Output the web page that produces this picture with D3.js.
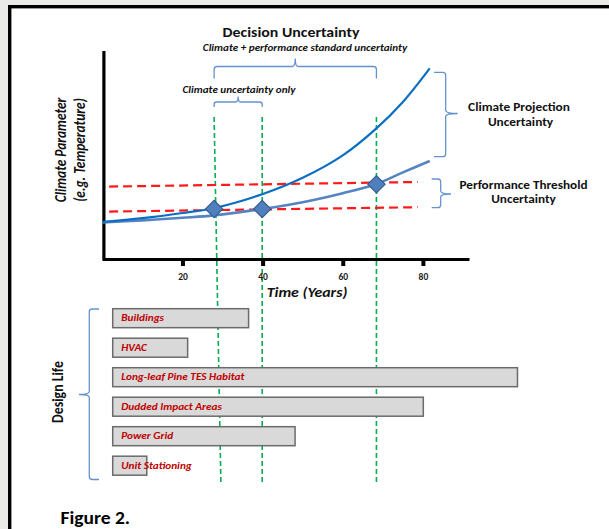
<!DOCTYPE html>
<html>
<head>
<meta charset="utf-8">
<script src="https://cdn.jsdelivr.net/npm/d3@7"></script>
<style>
  html, body { margin: 0; padding: 0; background: #eaebe9; }
  svg { display: block; }
  text { font-family: Carlito, Lato, "Open Sans", sans-serif; }
</style>
</head>
<body>
<script>
// ---------- data ----------
const timeTicks = [20, 40, 60, 80];
const curveTimes = [0, 10, 20, 27.9, 39.9, 50, 60, 68.4, 75, 81.7];
const upperCurve = [18.5, 20.4, 23, 25.5, 32.4, 40.6, 51.8, 65.3, 78.5, 95.3];
const lowerCurve = [18.3, 19.3, 20.6, 21.8, 25, 28.4, 32.9, 37.5, 43.3, 49];
const thresholdTimes = [1.7, 78.7];
const thresholdHigh = [36.2, 38.5];
const thresholdLow = [23.7, 25.9];
const decisionTimes = [27.9, 39.9, 68.4];
const decisionValues = [25, 25, 37.4];
const decisionTimesBottom = [29.6, 39.9, 68.4];
const lifeCategories = ["Buildings", "HVAC", "Long-leaf Pine TES Habitat", "Dudded Impact Areas", "Power Grid", "Unit Stationing"];
const lifeStart = [2.6, 2.6, 2.6, 2.6, 2.6, 2.6];
const lifeEnd = [36.5, 21.3, 103.6, 80.1, 48.1, 11.1];

// ---------- setup ----------
const W = 609, H = 529;
const SX = 1.15; // horizontal stretch of the original figure's text
const svg = d3.select("body").append("svg").attr("width", W).attr("height", H);

svg.append("rect").attr("x", 0).attr("y", 0).attr("width", W).attr("height", H).attr("fill", "#eaebe9");
svg.append("rect").attr("x", 9.7).attr("y", 6.7).attr("width", 700).attr("height", 700)
  .attr("fill", "#ffffff").attr("stroke", "#000").attr("stroke-width", 3.4);

const x = d3.scaleLinear().domain([0, 91.5]).range([102.3, 469]);
const y = d3.scaleLinear().domain([0, 104]).range([259, 51]);
const yBand = d3.scaleBand().domain(lifeCategories).range([303.45, 480.45]).paddingInner(0.356).paddingOuter(0.178);

const braceColor = "#6592cf";

// ---------- green decision lines ----------
const greenTop = 117, greenBottom = 485;
svg.append("g").selectAll("line").data(decisionTimes).join("line")
  .attr("x1", d => x(d)).attr("y1", greenTop)
  .attr("x2", (d, i) => x(decisionTimesBottom[i])).attr("y2", greenBottom)
  .attr("stroke", "#00b050").attr("stroke-width", 1.6).attr("stroke-dasharray", "5,3");

// ---------- design life bars ----------
const bars = svg.append("g");
bars.selectAll("rect").data(lifeCategories).join("rect")
  .attr("x", (d, i) => x(lifeStart[i]))
  .attr("y", d => yBand(d))
  .attr("width", (d, i) => x(lifeEnd[i]) - x(lifeStart[i]))
  .attr("height", yBand.bandwidth())
  .attr("fill", "#d9d9d9").attr("stroke", "#6b6b6b").attr("stroke-width", 1.5);
bars.selectAll("text").data(lifeCategories).join("text")
  .attr("transform", (d, i) => `translate(${x(lifeStart[i]) + 8.5},${yBand(d) + yBand.bandwidth() / 2}) scale(${SX},1)`)
  .attr("dominant-baseline", "central")
  .attr("fill", "#c00000").attr("font-size", 9.8).attr("font-weight", "bold").attr("font-style", "italic")
  .text(d => d);

// ---------- axes ----------
const xAxis = svg.append("g").attr("transform", `translate(0,${y(0)})`)
  .call(d3.axisBottom(x).tickValues(timeTicks).tickSize(7).tickSizeOuter(0).tickPadding(7));
xAxis.select(".domain").attr("stroke", "#000").attr("stroke-width", 3.2);
xAxis.selectAll(".tick line").attr("stroke", "#000").attr("stroke-width", 4);
xAxis.selectAll(".tick text").attr("font-size", 9.5).attr("font-weight", "bold").attr("fill", "#1a1a1a")
  .style("font-family", "Carlito, Lato, 'Open Sans', sans-serif");

const yAxis = svg.append("g").attr("transform", `translate(${x(0) + 1.6},0)`)
  .call(d3.axisLeft(y).tickValues([]).tickSizeOuter(0));
yAxis.select(".domain").attr("stroke", "#000").attr("stroke-width", 3.2)
  .attr("d", `M0,${y(104)}V${y(0) + 1.5}`);

// ---------- threshold lines ----------
const tLine = d3.line().x(d => x(d[0])).y(d => y(d[1]));
[thresholdHigh, thresholdLow].forEach(vals => {
  svg.append("path").datum(thresholdTimes.map((t, i) => [t, vals[i]]))
    .attr("d", tLine).attr("fill", "none").attr("stroke", "#ff1a1a")
    .attr("stroke-width", 2.2).attr("stroke-dasharray", "9,5");
});

// ---------- climate curves ----------
const cLine = d3.line().x(d => x(d[0])).y(d => y(d[1])).curve(d3.curveCatmullRom.alpha(0.5));
svg.append("path").datum(curveTimes.map((t, i) => [t, lowerCurve[i]]))
  .attr("d", cLine).attr("fill", "none").attr("stroke", "#5684c2").attr("stroke-width", 2.6);
svg.append("path").datum(curveTimes.map((t, i) => [t, upperCurve[i]]))
  .attr("d", cLine).attr("fill", "none").attr("stroke", "#0a6fc2").attr("stroke-width", 2.2);

// ---------- diamonds ----------
svg.append("g").selectAll("path").data(decisionTimes).join("path")
  .attr("d", d3.symbol(d3.symbolSquare, 150))
  .attr("transform", (d, i) => `translate(${x(d)},${y(decisionValues[i])}) rotate(45)`)
  .attr("fill", "#4f7fbd").attr("stroke", "#36608f").attr("stroke-width", 1.2);

// ---------- braces ----------
function braceH(x1, x2, yEnd, yMid, yTip, r) {
  const xm = (x1 + x2) / 2;
  return `M${x1},${yEnd} L${x1},${yMid + r} Q${x1},${yMid} ${x1 + r},${yMid} L${xm - r},${yMid} Q${xm},${yMid} ${xm},${yTip} Q${xm},${yMid} ${xm + r},${yMid} L${x2 - r},${yMid} Q${x2},${yMid} ${x2},${yMid + r} L${x2},${yEnd}`;
}
function braceV(xe, xv, xt, y1, y2, ym, r) {
  const s = Math.sign(xt - xv);
  return `M${xe},${y1} L${xv - s * r},${y1} Q${xv},${y1} ${xv},${y1 + r} L${xv},${ym - r} Q${xv},${ym} ${xt},${ym} Q${xv},${ym} ${xv},${ym + r} L${xv},${y2 - r} Q${xv},${y2} ${xv - s * r},${y2} L${xe},${y2}`;
}
const braces = [
  braceH(x(decisionTimes[0]), x(decisionTimes[2]), 78.5, 66.5, 58.5, 3),
  braceH(x(decisionTimes[0]), x(decisionTimes[1]), 107, 102, 96.5, 2.5),
  braceV(434, 445.7, 457.7, 72.3, 156.7, 113.5, 3),
  braceV(431.7, 440.7, 451, 179, 207.7, 194, 3),
  braceV(99, 89.3, 79, 309, 479.5, 394.5, 3)
];
svg.append("g").selectAll("path").data(braces).join("path")
  .attr("d", d => d).attr("fill", "none").attr("stroke", braceColor).attr("stroke-width", 1.3);

// ---------- texts ----------
function txt(str, tx, ty, size, opts = {}) {
  const tr = opts.rotate
    ? `translate(${tx},${ty}) rotate(-90) scale(1,${SX})`
    : `translate(${tx},${ty}) scale(${SX},1)`;
  return svg.append("text").attr("transform", tr).attr("font-size", size)
    .attr("font-weight", opts.weight || "bold").attr("font-style", opts.style || "normal")
    .attr("text-anchor", opts.anchor || "middle").attr("fill", opts.fill || "#111")
    .attr("dominant-baseline", "central").text(str);
}
txt("Decision Uncertainty", 291, 32.3, 13.8);
txt("Climate + performance standard uncertainty", 305, 47.3, 9.7, { style: "italic" });
txt("Climate uncertainty only", 239, 89.3, 9.7, { style: "italic" });
txt("Climate Projection", 519, 107.3, 11.6);
txt("Uncertainty", 520.5, 122, 11.6);
txt("Performance Threshold", 523.5, 184.5, 11.5);
txt("Uncertainty", 523.5, 198.5, 11.5);
txt("Time (Years)", 307, 292.5, 13.8, { style: "italic" });
txt("Climate Parameter", 61, 150, 13.4, { style: "italic", rotate: true });
txt("(e.g. Temperature)", 80, 150, 13.4, { style: "italic", rotate: true });
txt("Design Life", 57.5, 392, 13.8, { rotate: true });
txt("Figure 2.", 60.5, 518, 17, { anchor: "start", fill: "#000" });
</script>
</body>
</html>
